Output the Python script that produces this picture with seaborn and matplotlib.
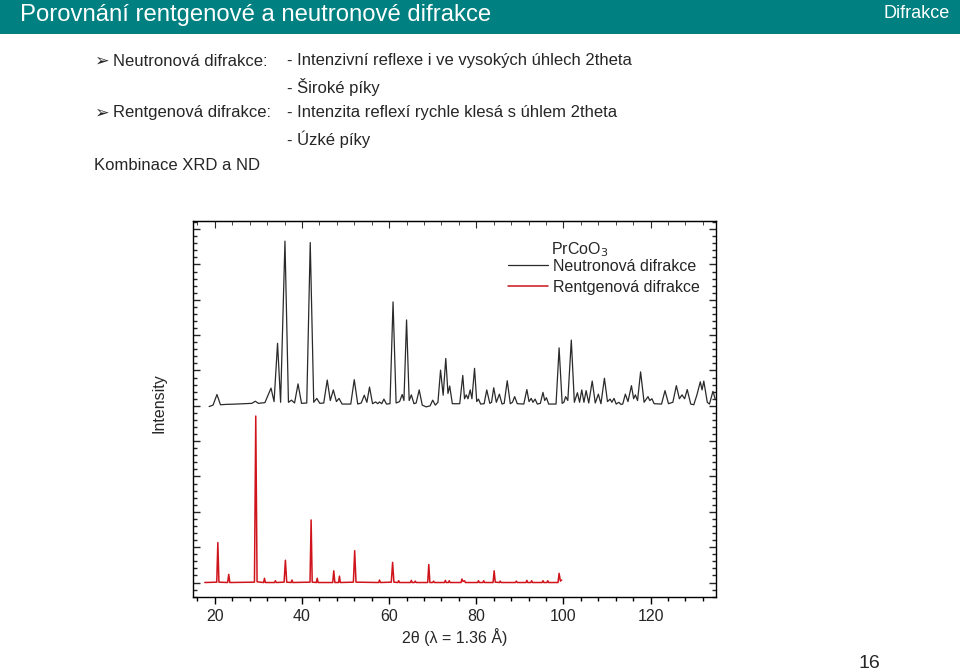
import matplotlib
matplotlib.use("Agg")
import matplotlib.pyplot as plt
from matplotlib.patches import Rectangle
from matplotlib.ticker import MultipleLocator
import seaborn as sns
import pandas as pd

# ---------------- data ----------------
# Neutron pattern (offset by +5), polyline vertices: 2theta, intensity
nd_x = [18.7, 19.6, 20.5, 21.3, 22.5, 25.0, 28.5, 29.3, 30.0, 31.5, 32.9, 33.6, 34.4, 35.1,
        36.1, 36.9, 37.6, 38.3, 39.1, 39.9, 41.1, 41.9, 42.7, 43.4, 44.1, 45.0, 45.8, 46.5,
        47.2, 47.9, 48.5, 49.2, 51.2, 52.0, 52.8, 53.6, 54.3, 54.9, 55.5, 56.2, 56.9, 57.4,
        57.8, 58.3, 58.8, 59.4, 60.2, 60.9, 61.6, 62.4, 63.0, 63.4, 64.0, 64.6, 65.1, 65.7,
        66.2, 66.9, 67.6, 68.5, 69.4, 70.0, 70.6, 71.2, 71.8, 72.4, 73.0, 73.5, 73.9, 74.5,
        76.2, 76.9, 77.3, 77.7, 78.1, 78.6, 79.0, 79.6, 80.1, 80.5, 81.0, 81.8, 82.4, 83.1,
        83.5, 84.0, 84.6, 85.3, 85.9, 86.4, 87.1, 87.8, 88.3, 88.8, 89.4, 90.9, 91.6, 92.1,
        92.6, 93.0, 93.5, 94.0, 94.7, 95.3, 95.7, 96.1, 96.6, 98.3, 99.0, 99.7, 100.1, 100.5,
        101.0, 101.8, 102.5, 103.2, 103.7, 104.2, 104.7, 105.2, 105.8, 106.6, 107.3, 108.0,
        108.6, 109.4, 110.1, 110.7, 111.1, 111.6, 112.1, 112.7, 113.2, 113.6, 114.2, 114.8,
        115.6, 116.1, 116.5, 117.0, 117.7, 118.5, 119.4, 119.8, 120.3, 120.8, 122.5, 123.3,
        124.1, 125.1, 125.9, 126.6, 127.2, 127.8, 128.4, 129.2, 129.9, 130.6, 131.4, 131.8,
        132.2, 133.0, 133.5, 134.3, 134.8]
nd_y = [4.98, 5.02, 5.32, 5.03, 5.04, 5.05, 5.07, 5.13, 5.07, 5.09, 5.50, 5.12, 6.77, 5.10,
        9.66, 5.10, 5.16, 5.08, 5.62, 5.07, 5.08, 9.62, 5.10, 5.21, 5.07, 5.08, 5.73, 5.15,
        5.45, 5.12, 5.21, 5.05, 5.05, 5.74, 5.05, 5.08, 5.30, 5.10, 5.53, 5.06, 5.11, 5.06,
        5.11, 5.06, 5.19, 5.05, 5.06, 7.94, 5.08, 5.12, 5.32, 5.15, 7.43, 5.15, 5.31, 5.06,
        5.08, 5.45, 5.02, 4.97, 5.00, 5.16, 5.02, 5.10, 6.01, 5.30, 6.34, 5.35, 5.56, 5.06,
        5.06, 5.86, 5.20, 5.31, 5.20, 5.45, 5.20, 6.06, 5.12, 5.19, 5.05, 5.06, 5.45, 5.07,
        5.10, 5.51, 5.10, 5.33, 5.05, 5.07, 5.71, 5.06, 5.10, 5.26, 5.06, 5.05, 5.46, 5.12,
        5.21, 5.10, 5.19, 5.05, 5.07, 5.38, 5.15, 5.23, 5.05, 5.05, 6.64, 5.07, 5.10, 5.26,
        5.15, 6.86, 5.10, 5.37, 5.10, 5.45, 5.10, 5.43, 5.08, 5.70, 5.08, 5.33,
        5.06, 5.78, 5.12, 5.19, 5.10, 5.21, 5.05, 5.10, 5.04, 5.05, 5.33, 5.12,
        5.57, 5.20, 5.31, 5.15, 5.96, 5.10, 5.26, 5.15, 5.20, 5.06, 5.05, 5.43,
        5.06, 5.10, 5.57, 5.20, 5.31, 5.20, 5.46, 5.05, 5.03, 5.30, 5.68, 5.45,
        5.70, 5.10, 5.05, 5.41, 5.20]

# X-ray pattern, polyline vertices: 2theta, intensity
xrd_x = [17.7, 20.45, 20.7, 20.95, 22.95, 23.2, 23.45, 29.1, 29.4, 29.7, 31.2, 31.4, 31.6,
         33.7, 33.9, 34.1, 35.9, 36.2, 36.5, 37.5, 37.7, 37.9, 41.85, 42.1, 42.35, 43.3, 43.5,
         43.7, 47.05, 47.3, 47.55, 48.4, 48.6, 48.8, 51.8, 52.1, 52.4, 57.6, 57.8, 58.0, 60.5,
         60.8, 61.1, 62.0, 62.2, 62.4, 64.9, 65.1, 65.3, 65.8, 66.0, 66.2, 68.85, 69.1, 69.35,
         70.0, 70.2, 70.4, 72.7, 72.9, 73.1, 73.6, 73.8, 74.0, 76.5, 76.7, 76.95, 77.3, 77.5,
         80.3, 80.5, 80.7, 81.5, 81.7, 81.9, 83.85, 84.1, 84.35, 85.3, 85.5, 85.7, 89.0, 89.2,
         89.4, 91.4, 91.6, 91.8, 92.5, 92.7, 92.9, 95.1, 95.3, 95.5, 96.2, 96.4, 96.6, 98.75,
         99.0, 99.3, 99.6]
xrd_y = [0.0, 0.01, 1.13, 0.01, 0.0, 0.23, 0.0, 0.01, 4.71, 0.02, 0.0, 0.12, 0.0,
         0.0, 0.05, 0.0, 0.01, 0.63, 0.01, 0.0, 0.07, 0.0, 0.01, 1.77, 0.01, 0.0, 0.12,
         0.0, 0.0, 0.33, 0.0, 0.0, 0.18, 0.0, 0.01, 0.90, 0.01, 0.0, 0.07, 0.0, 0.01,
         0.57, 0.01, 0.0, 0.05, 0.0, 0.0, 0.06, 0.0, 0.0, 0.04, 0.0, 0.0, 0.51, 0.0,
         0.0, 0.04, 0.0, 0.0, 0.06, 0.0, 0.0, 0.05, 0.0, 0.0, 0.10, 0.03, 0.05, 0.0,
         0.0, 0.05, 0.0, 0.0, 0.05, 0.0, 0.0, 0.33, 0.01, 0.0, 0.04, 0.0, 0.0, 0.04,
         0.0, 0.0, 0.06, 0.0, 0.0, 0.05, 0.0, 0.0, 0.05, 0.0, 0.0, 0.05, 0.0, 0.0,
         0.26, 0.04, 0.07]

x_ticks = [20, 40, 60, 80, 100, 120]
legend_title = "PrCoO$_3$"
series_names = ["Neutronová difrakce", "Rentgenová difrakce"]
series_colors = ["#2a2a2a", "#d0141c"]

header_title = "Porovnání rentgenové a neutronové difrakce"
header_right = "Difrakce"
bullet_rows = [
    ("➢", "Neutronová difrakce:", "- Intenzivní reflexe i ve vysokých úhlech 2theta"),
    ("", "", "- Široké píky"),
    ("➢", "Rentgenová difrakce:", "- Intenzita reflexí rychle klesá s úhlem 2theta"),
    ("", "", "- Úzké píky"),
]
footer_line = "Kombinace XRD a ND"
page_number = "16"

# ---------------- figure ----------------
sns.set_style("ticks")
plt.rcParams["font.family"] = ["Liberation Sans", "DejaVu Sans"]

W, H = 960, 671
fig = plt.figure(figsize=(W / 100, H / 100), dpi=100)

def fx(px):
    return px / W

def fy(py):
    return 1 - py / H

# header bar
fig.patches.append(Rectangle((0, fy(34)), 1, 34 / H, transform=fig.transFigure,
                             facecolor="#008080", edgecolor="none", zorder=0))
fig.text(fx(20), fy(15), header_title, color="white", fontsize=17.2,
         va="center", ha="left")
fig.text(fx(950), fy(14), header_right, color="white", fontsize=13,
         va="center", ha="right")

# bullet text
row_y = [61, 87, 113, 139]
for (sym, lab, desc), yy in zip(bullet_rows, row_y):
    if sym:
        fig.text(fx(94), fy(yy), sym, fontsize=12.5, va="center", ha="left",
                 family=["DejaVu Sans"])
    if lab:
        fig.text(fx(113), fy(yy), lab, fontsize=12, va="center", ha="left")
    fig.text(fx(287), fy(yy), desc, fontsize=12, va="center", ha="left")
fig.text(fx(94), fy(165), footer_line, fontsize=12, va="center", ha="left")
fig.text(fx(858), fy(664), page_number, fontsize=14, va="center", ha="left")

# chart
ax = fig.add_axes([fx(193), fy(597), fx(716) - fx(193), (597 - 221) / H])
nd = pd.DataFrame({"x": nd_x, "y": nd_y})
xr = pd.DataFrame({"x": xrd_x, "y": xrd_y})
sns.lineplot(data=nd, x="x", y="y", ax=ax, color=series_colors[0], lw=0.9,
             estimator=None, sort=False, label=series_names[0])
sns.lineplot(data=xr, x="x", y="y", ax=ax, color=series_colors[1], lw=1.1,
             estimator=None, sort=False, label=series_names[1])

ax.set_xlim(15, 135)
ax.set_ylim(-0.41, 10.23)
ax.set_xticks(x_ticks)
ax.xaxis.set_minor_locator(MultipleLocator(4))
ax.yaxis.set_major_locator(MultipleLocator(1))
ax.yaxis.set_minor_locator(MultipleLocator(0.2))
ax.tick_params(axis="x", which="both", bottom=True, top=False, direction="out",
               labelsize=11.5, color="black", width=1)
ax.tick_params(axis="y", which="both", left=True, right=True, direction="in",
               labelleft=False, width=1)
ax.tick_params(which="major", length=5)
ax.tick_params(which="minor", length=3)
for s in ax.spines.values():
    s.set_linewidth(1.0)
    s.set_color("black")

# top ticks point inward
sec = ax.secondary_xaxis("top")
sec.set_xticks(x_ticks)
sec.xaxis.set_minor_locator(MultipleLocator(4))
sec.tick_params(which="both", direction="in", labeltop=False)
sec.tick_params(which="major", length=5)
sec.tick_params(which="minor", length=3)

ax.set_xlabel("2θ (λ = 1.36 Å)", fontsize=11.5, labelpad=3)
ax.set_ylabel("Intensity", fontsize=11.5)
ax.yaxis.set_label_coords((166 - 193) / 523, 1 - (403 - 221) / 376)

leg = ax.legend(loc="upper left", frameon=False, fontsize=11.5,
                bbox_to_anchor=((508 - 193) / 523, 1 - (259 - 221) / 376),
                handlelength=2.5, handletextpad=0.3, labelspacing=0.36,
                borderaxespad=0, borderpad=0)
ax.text((551 - 193) / 523, 1 - (259 - 221) / 376, legend_title,
        transform=ax.transAxes, fontsize=11.5, ha="left", va="bottom")

fig.savefig("out.png", dpi=100)
